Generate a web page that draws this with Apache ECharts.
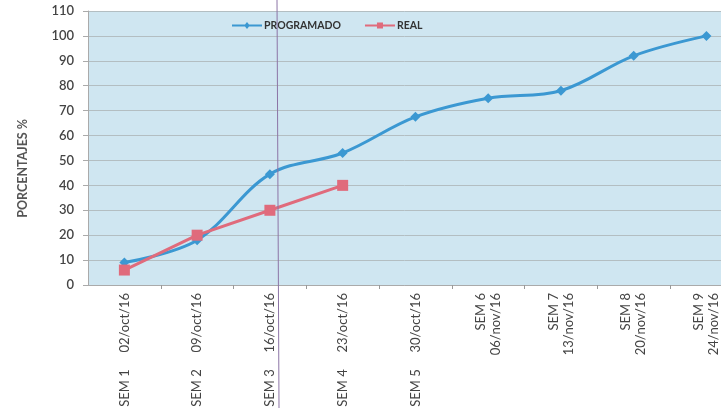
<!DOCTYPE html>
<html><head><meta charset="utf-8">
<script src="https://cdn.jsdelivr.net/npm/echarts@6/dist/echarts.min.js"></script>
<style>html,body{margin:0;padding:0;background:#fff}#c{width:721px;height:408px}</style>
</head><body><div id="c"></div>
<script>
const weeks = ["SEM 1","SEM 2","SEM 3","SEM 4","SEM 5","SEM 6","SEM 7","SEM 8","SEM 9"];
const dates = ["02/oct/16","09/oct/16","16/oct/16","23/oct/16","30/oct/16","06/nov/16","13/nov/16","20/nov/16","24/nov/16"];
const twoLine = [false,false,false,false,false,true,true,true,true];
const programado = [9,18,44.5,53,67.5,75,78,92,100];
const real = [6,20,30,40];
const yTicks = {min:0,max:110,interval:10};

const cats = weeks.map((w,i)=> twoLine[i] ? w + "\n" + dates[i] : w + "     " + dates[i]);
const idx = cats.map((c,i)=>i);
const between = idx.slice(0,-1).map(i=>i+0.5);
const chart = echarts.init(document.getElementById('c'));
chart.setOption({
  animation:false,
  textStyle:{fontFamily:'Lato'},
  grid:{left:88,right:0,top:11,bottom:123,outerBoundsMode:'none',containLabel:false,show:true,backgroundColor:'#cfe6f1',borderWidth:0},
  legend:{
    top:15,left:227,itemGap:24,itemWidth:30,itemHeight:8,
    textStyle:{fontFamily:'Lato',fontWeight:'bold',fontSize:10.5,color:'#333',padding:[0,0,0,-3]},
    data:[{name:'PROGRAMADO',icon:'path://M0,3L13,3L15,0.5L17,3L30,3L30,5L17,5L15,7.5L13,5L0,5Z'},
          {name:'REAL',icon:'path://M0,3L12,3L12,1L18,1L18,3L30,3L30,5L18,5L18,7L12,7L12,5L0,5Z'}]
  },
  graphic:[
    {type:'text',left:16,top:119,rotation:Math.PI/2,
     style:{text:'PORCENTAJES %',fontFamily:'Lato',fontWeight:'bold',fontSize:12.5,fill:'#555'}},
    {type:'line',shape:{x1:277,y1:0,x2:279,y2:408},style:{stroke:'#8c74a6',lineWidth:1},z:100}
  ],
  xAxis:{
    type:'value',min:-0.5,max:8.2,
    axisLine:{show:true,onZero:false,lineStyle:{color:'#aaa'}},
    axisTick:{show:true,customValues:between,lineStyle:{color:'#999'},length:4},
    axisLabel:{customValues:idx,formatter:v=>cats[Math.round(v)],rotate:90,fontFamily:'Lato',fontSize:13,color:'#444',lineHeight:15,margin:8,showMinLabel:true,showMaxLabel:true},
    splitLine:{show:false}
  },
  yAxis:{
    type:'value',min:yTicks.min,max:yTicks.max,interval:yTicks.interval,
    axisLine:{show:true,onZero:false,lineStyle:{color:'#aaa'}},
    axisTick:{show:true,length:5,lineStyle:{color:'#aaa'}},
    axisLabel:{fontFamily:'Lato',fontSize:13,color:'#444',margin:14,fontWeight:600},
    splitLine:{lineStyle:{color:'#b3bec2',width:1}}
  },
  series:[
    {name:'PROGRAMADO',type:'line',data:programado.map((v,i)=>[idx[i],v]),smooth:0.35,symbol:'diamond',symbolSize:10,
     itemStyle:{color:'#3b98d2'},lineStyle:{width:3,color:'#3b98d2'}},
    {name:'REAL',type:'line',data:real.map((v,i)=>[idx[i],v]),symbol:'rect',symbolSize:11,
     itemStyle:{color:'#e06b7c'},lineStyle:{width:3,color:'#e06b7c'}}
  ]
});
</script></body></html>
